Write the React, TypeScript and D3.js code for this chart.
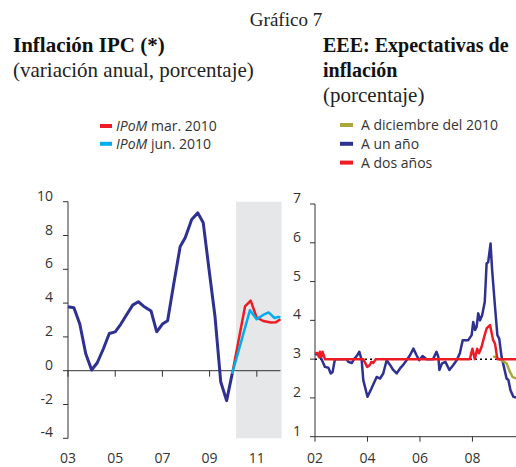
import * as d3 from 'd3';

const W = 516;
const H = 467;

// Left panel: IPC inflation (annual change, %)
const ipcDates = [
  2003.0, 2003.25, 2003.5, 2003.75, 2004.0, 2004.24, 2004.5, 2004.75, 2005.0, 2005.24,
  2005.49, 2005.74, 2005.98, 2006.2, 2006.52, 2006.76, 2007.0, 2007.22, 2007.46, 2007.75,
  2007.97, 2008.24, 2008.5, 2008.73, 2008.97, 2009.23, 2009.47, 2009.72, 2009.96,
];
const ipcValues = [
  3.78, 3.72, 2.76, 1.02, 0.04, 0.47, 1.3, 2.2, 2.3, 2.76,
  3.33, 3.88, 4.08, 3.82, 3.53, 2.3, 2.76, 2.95, 4.97, 7.33,
  7.88, 8.95, 9.34, 8.75, 6.05, 3.19, -0.65, -1.77, -0.16,
];
const ipomMarDates = [2009.96, 2010.5, 2010.74, 2010.99, 2011.27, 2011.6, 2011.8, 2012.0];
const ipomMarValues = [-0.16, 3.8, 4.15, 3.15, 2.94, 2.85, 2.86, 3.04];
const ipomJunDates = [2009.96, 2010.71, 2010.99, 2011.27, 2011.5, 2011.75, 2011.9, 2012.0];
const ipomJunValues = [-0.16, 3.58, 3.05, 3.3, 3.45, 3.12, 3.18, 3.17];
const leftShade = [2010.12, 2012.05];
const leftYTicks = [10, 8, 6, 4, 2, 0, -2, -4];
const leftXTicks = [2003, 2005, 2007, 2009, 2011];
const leftXLabels = ['03', '05', '07', '09', '11'];

// Right panel: EEE inflation expectations (%)
const unAnoDates = [
  2002.0, 2002.13, 2002.25, 2002.38, 2002.51, 2002.6, 2002.67, 2002.76, 2003.2, 2003.27,
  2003.4, 2003.49, 2003.59, 2003.69, 2003.78, 2003.84, 2004.0, 2004.15, 2004.35, 2004.48,
  2004.6, 2004.73, 2004.86, 2004.98, 2005.11, 2005.24, 2005.37, 2005.49, 2005.62, 2005.75,
  2005.87, 2005.97, 2006.1, 2006.25, 2006.5, 2006.63, 2006.7, 2006.74, 2006.84, 2006.97,
  2007.12, 2007.27, 2007.4, 2007.52, 2007.63, 2007.84, 2007.97, 2008.03, 2008.1, 2008.16,
  2008.22, 2008.29, 2008.37, 2008.47, 2008.54, 2008.6, 2008.69, 2008.75, 2008.86, 2008.95,
  2009.02, 2009.11, 2009.2, 2009.3, 2009.37, 2009.45, 2009.56, 2009.66,
];
const unAnoValues = [
  3.15, 3.1, 3.0, 2.8, 2.78, 2.63, 2.67, 3.0, 3.0, 2.93,
  2.9, 3.0, 3.08, 3.19, 2.97, 2.46, 2.03, 2.24, 2.54, 2.5,
  2.63, 2.97, 2.85, 2.72, 2.63, 2.76, 2.86, 2.97, 3.1, 3.27,
  3.1, 2.97, 3.08, 3.0, 3.0, 3.19, 3.06, 2.72, 2.89, 2.93,
  2.72, 2.85, 2.97, 3.15, 3.49, 3.49, 3.62, 3.96, 3.75, 3.83,
  4.18, 4.0, 4.13, 4.48, 5.47, 5.5, 5.98, 5.3, 4.35, 3.62,
  3.53, 3.06, 2.8, 2.5, 2.46, 2.2, 2.03, 2.01,
];
const dosAnosDates = [
  2002.0, 2002.09, 2002.16, 2002.19, 2002.25, 2002.29, 2002.38, 2003.84, 2003.99, 2004.09,
  2004.15, 2004.22, 2004.32, 2007.9, 2008.0, 2008.09, 2008.18, 2008.25, 2008.35, 2008.45,
  2008.54, 2008.67, 2008.79, 2008.86, 2008.95, 2009.66,
];
const dosAnosValues = [
  3.15, 3.16, 3.05, 3.19, 3.06, 3.19, 3.0, 3.0, 2.8, 2.85,
  2.93, 2.9, 3.0, 3.0, 3.27, 3.0, 3.27, 3.15, 3.32, 3.58,
  3.79, 3.88, 3.49, 3.4, 3.0, 3.0,
];
const dic2010Dates = [2008.79, 2008.86, 2009.11, 2009.3, 2009.43, 2009.53, 2009.66];
const dic2010Values = [3.06, 3.06, 2.97, 2.89, 2.67, 2.54, 2.5];
const targetLevel = 3;
const rightYTicks = [7, 6, 5, 4, 3, 2, 1];
const rightXTicks = [2002, 2004, 2006, 2008];
const rightXLabels = ['02', '04', '06', '08'];

const NAVY = '#2e3192';
const RED = '#ed1c24';
const CYAN = '#00aeef';
const OLIVE = '#a8a83c';
const AXIS = '#333333';
const TXT = '#333333';
const SANS = "'Open Sans', sans-serif";
const SERIF = "'Liberation Serif', serif";

const pairs = (xs: number[], ys: number[]) => xs.map((x, i) => [x, ys[i]] as [number, number]);

export default function App() {
  // left scales
  const lx = d3.scaleLinear().domain([2003, 2012.05]).range([68, 281.6]);
  const ly = d3.scaleLinear().domain([-4, 10]).range([438.3, 201.7]);
  const lLine = d3.line<[number, number]>().x((d) => lx(d[0])).y((d) => ly(d[1]));

  // right scales
  const rx = d3.scaleLinear().domain([2002, 2009.66]).range([315, 516]);
  const ry = d3.scaleLinear().domain([1, 7]).range([436.7, 204]);
  const rLine = d3.line<[number, number]>().x((d) => rx(d[0])).y((d) => ry(d[1]));

  const labelY = 463;
  const fs = 14;

  return (
    <svg
      width={W}
      height={H}
      viewBox={`0 0 ${W} ${H}`}
      style={{ position: 'absolute', left: 0, top: 0, background: '#fff' }}
    >
      {/* titles */}
      <text x={286} y={26} textAnchor="middle" fontFamily={SERIF} fontSize={19} fill="#222">
        Gráfico 7
      </text>
      <text x={13} y={52} fontFamily={SERIF} fontSize={21} fontWeight="bold" fill="#111">
        Inflación IPC (*)
      </text>
      <text x={13} y={77} fontFamily={SERIF} fontSize={21} fill="#222">
        (variación anual, porcentaje)
      </text>
      <text x={323} y={52} fontFamily={SERIF} fontSize={20} fontWeight="bold" fill="#111">
        EEE: Expectativas de
      </text>
      <text x={323} y={77} fontFamily={SERIF} fontSize={20} fontWeight="bold" fill="#111">
        inflación
      </text>
      <text x={323} y={102} fontFamily={SERIF} fontSize={21} fill="#222">
        (porcentaje)
      </text>

      {/* left legend */}
      {[
        { c: RED, t: ' mar. 2010' },
        { c: CYAN, t: ' jun. 2010' },
      ].map((d, i) => (
        <g key={i} transform={`translate(0,${126 + i * 17.8})`}>
          <line x1={100} x2={112} y1={0} y2={0} stroke={d.c} strokeWidth={4} />
          <text x={116} y={5} fontFamily={SANS} fontSize={fs} fill={TXT}>
            <tspan fontStyle="italic">IPoM</tspan>
            {d.t}
          </text>
        </g>
      ))}

      {/* right legend */}
      {[
        { c: OLIVE, t: 'A diciembre del 2010' },
        { c: NAVY, t: 'A un año' },
        { c: RED, t: 'A dos años' },
      ].map((d, i) => (
        <g key={i} transform={`translate(0,${125 + i * 18.8})`}>
          <line x1={340} x2={353} y1={0} y2={0} stroke={d.c} strokeWidth={4} />
          <text x={361} y={5} fontFamily={SANS} fontSize={fs} fill={TXT}>
            {d.t}
          </text>
        </g>
      ))}

      {/* left chart */}
      <rect
        x={lx(leftShade[0])}
        y={ly(10)}
        width={lx(leftShade[1]) - lx(leftShade[0])}
        height={ly(-4) - ly(10)}
        fill="#e6e7e8"
      />
      <line x1={lx(2003)} x2={lx(2003)} y1={ly(10)} y2={ly(-4)} stroke={AXIS} strokeWidth={1} />
      {leftYTicks.map((t) => (
        <g key={t}>
          <line x1={lx(2003) - 5} x2={lx(2003)} y1={ly(t)} y2={ly(t)} stroke={AXIS} />
          <text x={53} y={ly(t) - 1} textAnchor="end" fontFamily={SANS} fontSize={fs} fill={TXT}>
            {t}
          </text>
        </g>
      ))}
      <line x1={lx(2003)} x2={lx(2012)} y1={ly(0)} y2={ly(0)} stroke={AXIS} strokeWidth={1} />
      {leftXTicks.map((t, i) => (
        <g key={t}>
          <line x1={lx(t)} x2={lx(t)} y1={ly(0)} y2={ly(0) + 6} stroke={AXIS} />
          <text x={lx(t)} y={labelY} textAnchor="middle" fontFamily={SANS} fontSize={fs} fill={TXT}>
            {leftXLabels[i]}
          </text>
        </g>
      ))}
      <path d={lLine(pairs(ipcDates, ipcValues)) ?? ''} fill="none" stroke={NAVY} strokeWidth={3} strokeLinejoin="round" />
      <path d={lLine(pairs(ipomMarDates, ipomMarValues)) ?? ''} fill="none" stroke={RED} strokeWidth={2.5} strokeLinejoin="round" />
      <path d={lLine(pairs(ipomJunDates, ipomJunValues)) ?? ''} fill="none" stroke={CYAN} strokeWidth={2.5} strokeLinejoin="round" />

      {/* right chart */}
      <line x1={rx(2002)} x2={rx(2002)} y1={ry(7)} y2={ry(1)} stroke={AXIS} strokeWidth={1} />
      {rightYTicks.map((t) => (
        <g key={t}>
          <line x1={rx(2002) - 5} x2={rx(2002)} y1={ry(t)} y2={ry(t)} stroke={AXIS} />
          <text x={301} y={ry(t) - 1} textAnchor="end" fontFamily={SANS} fontSize={fs} fill={TXT}>
            {t}
          </text>
        </g>
      ))}
      <line x1={rx(2002)} x2={W} y1={ry(1)} y2={ry(1)} stroke={AXIS} strokeWidth={1} />
      {rightXTicks.map((t, i) => (
        <g key={t}>
          <line x1={rx(t)} x2={rx(t)} y1={ry(1)} y2={ry(1) + 5} stroke={AXIS} />
          <text x={rx(t)} y={labelY} textAnchor="middle" fontFamily={SANS} fontSize={fs} fill={TXT}>
            {rightXLabels[i]}
          </text>
        </g>
      ))}
      <line
        x1={rx(2002)}
        x2={rx(2009.66)}
        y1={ry(targetLevel)}
        y2={ry(targetLevel)}
        stroke="#000"
        strokeWidth={1.5}
        strokeDasharray="2,3"
      />
      <path d={rLine(pairs(unAnoDates, unAnoValues)) ?? ''} fill="none" stroke={NAVY} strokeWidth={2.5} strokeLinejoin="round" />
      <path d={rLine(pairs(dic2010Dates, dic2010Values)) ?? ''} fill="none" stroke={OLIVE} strokeWidth={2.5} strokeLinejoin="round" />
      <path d={rLine(pairs(dosAnosDates, dosAnosValues)) ?? ''} fill="none" stroke={RED} strokeWidth={2.5} strokeLinejoin="round" />
    </svg>
  );
}
